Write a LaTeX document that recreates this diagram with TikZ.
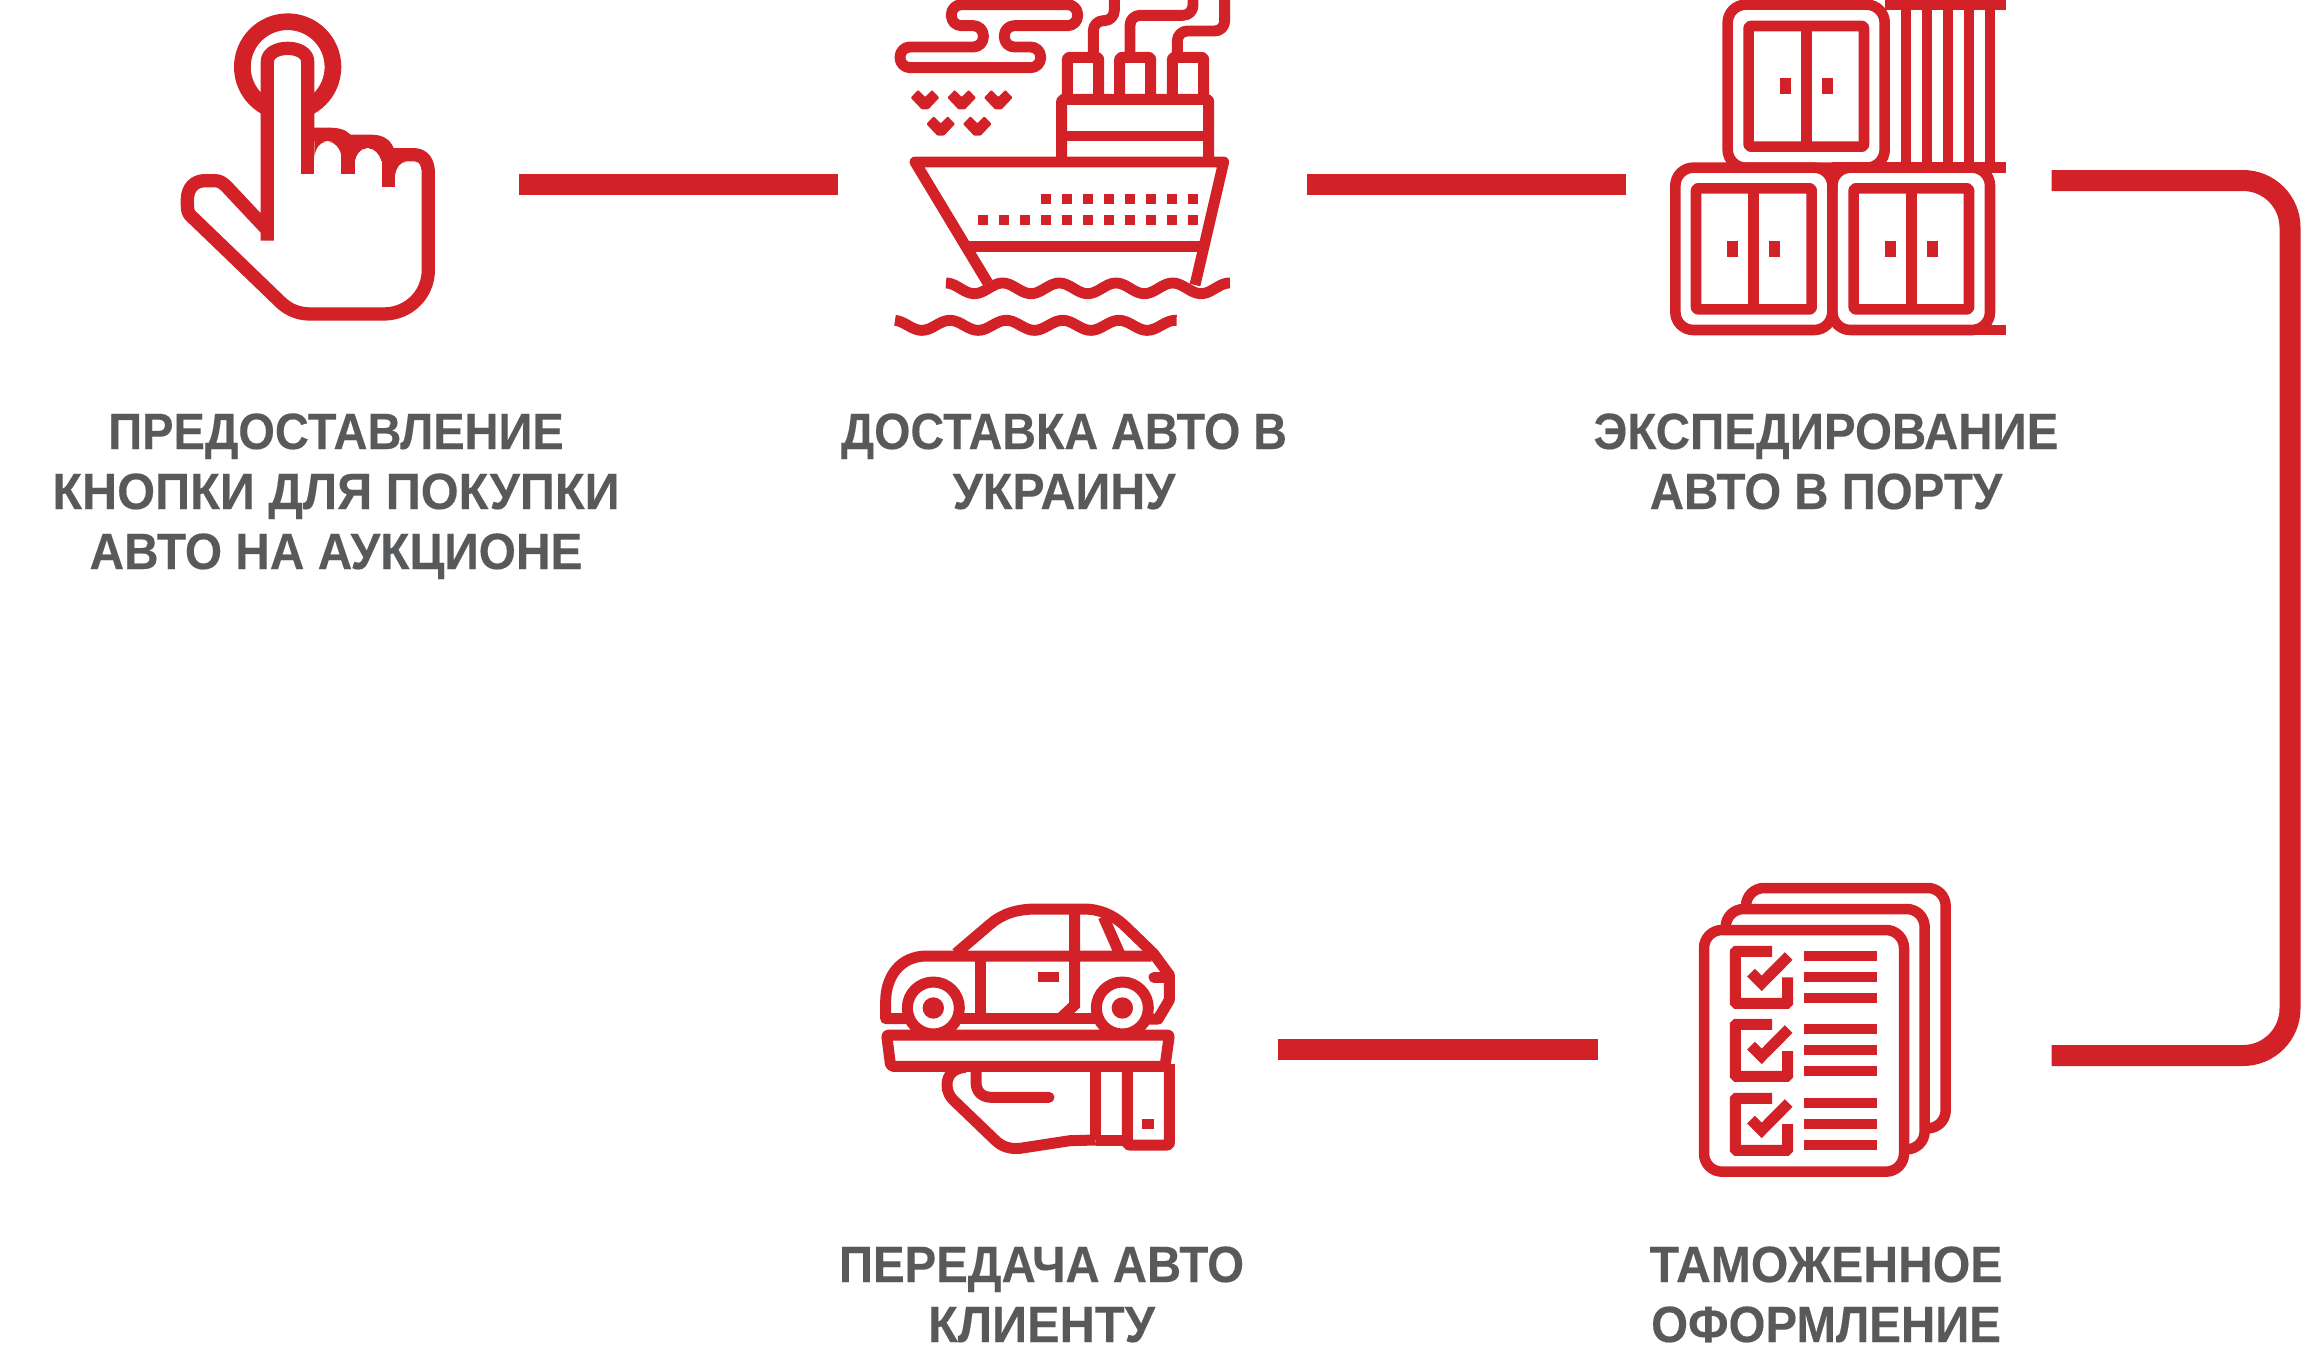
\documentclass[tikz,border=0pt]{standalone}
\usepackage{fontspec}
\setmainfont{Liberation Sans}[BoldFeatures={FakeBold=0.25}]
\definecolor{brandred}{HTML}{D22228}
\definecolor{labelgray}{HTML}{58595B}
\tikzset{
  x=1pt,y=-1pt,
  bar/.style={draw=brandred,line width=21pt},
  lbl/.style={text=labelgray,font=\bfseries\fontsize{51}{60}\selectfont,align=center,anchor=base,inner sep=0pt},
  ic/.style={draw=brandred,line width=#1,line join=round},
  ic/.default=10.9pt,
  zoomscope/.style={x=0.33333pt,y=-0.33333pt}
}
\newcommand{\chevronmark}[2]{\fill[brandred,rounded corners=1pt] (#1-43,#2-1)--(#1-21,#2-24)--(#1,#2-3)--(#1+21,#2-24)--(#1+43,#2-1)--(#1+10,#2+34)--(#1-10,#2+34)--cycle;}
\newcommand{\boxfill}[4]{\fill[brandred] (#1,#2) rectangle (#3,#4);}
\newcommand{\nw}[2]{\scalebox{#1}[1]{#2}}
\newcommand{\checkrow}[2]{%
  \draw[ic=10.9pt,line join=miter,rounded corners=1pt] (246,#1)--(136,#1)--(136,#1+156)--(293,#1+156)--(293,#2);
  \draw[ic=10.9pt,line join=miter] (183,#1+64)--(215,#1+96)--(296,#1+14);
  \foreach \dy in {14,77,140} {\draw[ic=10.4pt] (342,#1+\dy)--(561,#1+\dy);}
}
\begin{document}
\begin{tikzpicture}
\useasboundingbox (0,0) rectangle (2309,1366);
\clip (0,0) rectangle (2309,1366);

% ---------- connectors
\coordinate (a1) at (519,184.7);
\coordinate (a2) at (838,184.7);
\coordinate (b1) at (1307,184.7);
\coordinate (b2) at (1626,184.7);
\coordinate (c1) at (2051.5,180.5);
\coordinate (c2) at (2290,180.5);
\coordinate (c3) at (2290,1055.5);
\coordinate (c4) at (2051.5,1055.5);
\coordinate (d1) at (1597.5,1049);
\coordinate (d2) at (1278.3,1049);
\draw[bar] (a1)--(a2);
\draw[bar] (b1)--(b2);
\draw[bar,rounded corners=47pt] (c1)--(c2)--(c3)--(c4);
\draw[bar] (d1)--(d2);

% ---------- labels
\node[lbl] (t1) at (336,569) {\nw{.922}{ПРЕДОСТАВЛЕНИЕ}\\\nw{.955}{КНОПКИ ДЛЯ ПОКУПКИ}\\\nw{.938}{АВТО НА АУКЦИОНЕ}};
\node[lbl] (t2) at (1064,509) {\nw{.915}{ДОСТАВКА АВТО В}\\\nw{.95}{УКРАИНУ}};
\node[lbl] (t3) at (1826,509) {\nw{.932}{ЭКСПЕДИРОВАНИЕ}\\\nw{.93}{АВТО В ПОРТУ}};
\node[lbl] (t4) at (1041.5,1342) {\nw{.929}{ПЕРЕДАЧА АВТО}\\\nw{.956}{КЛИЕНТУ}};
\node[lbl] (t5) at (1826,1342) {\nw{.944}{ТАМОЖЕННОЕ}\\\nw{.93}{ОФОРМЛЕНИЕ}};

% ---------- pointing hand
\begin{scope}[shift={(150,0)},zoomscope]
  \draw[ic=16.7pt] (413,201) circle[radius=45.3pt];
  \draw[ic=13.3pt,fill=white] (352,722)--(352,185)
    .. controls (352,160) and (380,145) .. (413,145)
    .. controls (446,145) and (473,160) .. (473,185)
    --(473,403)--(540,403) .. controls (570,403) and (590,412) .. (594,430)
    --(594,424)--(665,424) .. controls (695,424) and (712,438) .. (715,464)
    --(790,464) .. controls (820,464) and (835,485) .. (835,520)
    --(835,810) .. controls (835,880) and (780,942) .. (700,942)
    --(480,942) .. controls (440,942) and (410,925) .. (390,905)
    --(120,645) .. controls (112,635) and (112,625) .. (112,600)
    .. controls (112,565) and (132,542) .. (165,542)--(195,542)
    .. controls (210,542) and (220,550) .. (230,560)--(352,690);
  \draw[ic=13.3pt] (473,400)--(473,522);
  \draw[ic=13.3pt] (594,430)--(594,522);
  \draw[ic=13.3pt] (715,460)--(715,562);
  \fill[brandred] (493,470) .. controls (497,445) and (510,425) .. (530,425)--(493,420)--cycle;
  \fill[brandred] (614,485) .. controls (618,465) and (630,445) .. (650,445)--(614,440)--cycle;
  \fill[brandred] (735,525) .. controls (738,505) and (750,485) .. (770,485)--(735,480)--cycle;
  \fill[brandred] (575,470) .. controls (570,445) and (555,425) .. (535,425)--(580,420)--cycle;
  \fill[brandred] (695,485) .. controls (690,465) and (675,445) .. (655,445)--(700,440)--cycle;
\end{scope}

% ---------- ship
\begin{scope}[shift={(880,0)},zoomscope]
  \draw[ic,rounded corners=10pt] (214,14)--(593,14)--(593,77)--(373,77)--(373,141)--(482,141)--(482,203)--(60,203)--(60,141)--(310,141)--(310,77)--(214,77)--cycle;
  \draw[ic,rounded corners=10pt] (640,165)--(640,62)--(703,62)--(703,-20);
  \draw[ic,rounded corners=10pt] (750,165)--(750,46)--(939,46)--(939,-20);
  \draw[ic,rounded corners=10pt] (892,165)--(892,93)--(1034,93)--(1034,-20);
  \draw[ic,rounded corners=2pt] (562,298)--(562,172)--(656,172)--(656,298);
  \draw[ic,rounded corners=2pt] (719,298)--(719,172)--(812,172)--(812,298);
  \draw[ic,rounded corners=2pt] (877,298)--(877,172)--(971,172)--(971,298);
  \draw[ic,rounded corners=2pt] (545,486)--(545,298)--(986,298)--(986,486);
  \draw[ic] (545,408)--(986,408);
  \foreach \cx/\cy in {135/294,245/294,355/294,182/373,292/373} {\chevronmark{\cx}{\cy}}
  \draw[ic] (323,848)--(105,486)--(1031,486)--(945,855);
  \draw[ic] (265,739)--(962,739);
  \foreach \wx in {483,546,609,672,735,798,861,924} {\boxfill{\wx}{582}{\wx+31}{613}}
  \foreach \wx in {294,357,420,483,546,609,672,735,798,861,924} {\boxfill{\wx}{645}{\wx+31}{676}}
  \draw[ic] plot[domain=198:1050,samples=140] (\x,{865-16*cos((\x-368)*2.1176)});
  \draw[ic] plot[domain=45:890,samples=140] (\x,{976-15*cos((\x-210)*2.1302)});
\end{scope}

% ---------- containers
\begin{scope}[shift={(1660,0)},zoomscope]
  \draw[ic=10.6pt] (674,14)--(1037,14);
  \draw[ic=10.6pt] (517,503)--(1037,503);
  \draw[ic=10.6pt] (940,990)--(1037,990);
  \foreach \vx in {738,801,864,927,990} {\draw[ic=10.6pt] (\vx,14)--(\vx,503);}
  \draw[ic=10.6pt,rounded corners=18pt] (203,14) rectangle (674,503);
  \draw[ic=10.6pt,rounded corners=18pt] (46,503) rectangle (517,990);
  \draw[ic=10.6pt,rounded corners=18pt] (517,503) rectangle (990,990);
  \draw[ic=10.6pt,rounded corners=2pt] (266,78) rectangle (612,440);
  \draw[ic=10.6pt] (439,78)--(439,440);
  \draw[ic=10.6pt,rounded corners=2pt] (108,565) rectangle (455,928);
  \draw[ic=10.6pt] (281,565)--(281,928);
  \draw[ic=10.6pt,rounded corners=2pt] (581,565) rectangle (927,928);
  \draw[ic=10.6pt] (754,565)--(754,928);
  \foreach \hx/\hy in {360/235,486/235,202/723,328/723,675/723,801/723} {\boxfill{\hx}{\hy}{\hx+32}{\hy+47}}
\end{scope}

% ---------- car on hand
\begin{scope}[shift={(870,890)},zoomscope]
  \draw[ic=11pt,rounded corners=2pt] (50,435)--(898,435)--(885,529)--(62,529)--cycle;
  \draw[ic=11pt] (120,386)--(47,386)--(47,335) .. controls (47,260) and (90,198) .. (170,198)--(845,198);
  \draw[ic=11pt] (258,190)--(360,103) .. controls (395,72) and (440,57) .. (500,57)--(640,57)
     .. controls (690,57) and (730,75) .. (765,108)--(850,190)--(898,255)--(898,330)--(864,387)--(835,387);
  \draw[ic=11pt] (270,386)--(680,386);
  \draw[ic=11pt] (331,198)--(331,386);
  \draw[ic=11pt,line join=miter] (614,57)--(614,345)--(570,386);
  \draw[ic=11pt] (700,80)--(752,198);
  \draw[ic=11pt,line cap=round] (852,262)--(898,262);
  \boxfill{503}{246}{567}{277}
  \draw[ic=11pt,fill=white] (190,354) circle[radius=26pt];
  \draw[ic=11pt,fill=white] (757,354) circle[radius=26pt];
  \fill[brandred] (190,354) circle[radius=10.7pt];
  \fill[brandred] (757,354) circle[radius=10.7pt];
  \draw[ic=11pt,line join=round] (285,532) .. controls (250,535) and (231,555) .. (231,585)
     .. controls (231,605) and (240,620) .. (250,630)--(375,750)
     .. controls (395,770) and (420,778) .. (450,775)--(600,752)--(677,750);
  \draw[ic=11pt,line cap=round] (318,535)--(318,575) .. controls (318,605) and (335,622) .. (365,622)--(537,622);
  \draw[ic=11pt] (677,530)--(677,750);
  \draw[ic=11pt] (677,751)--(772,751);
  \draw[ic=11pt,rounded corners=2pt] (772,530)--(772,765)--(898,765)--(898,522);
  \boxfill{817}{687}{852}{718}
\end{scope}

% ---------- checklist
\begin{scope}[shift={(1690,870)},zoomscope]
  \draw[ic=10.5pt,rounded corners=18pt] (168,110)--(168,54)--(767,54)--(767,775)--(712,775);
  \draw[ic=10.5pt,rounded corners=18pt] (107,172)--(107,117)--(704,117)--(704,838)--(650,838);
  \draw[ic=10.5pt,rounded corners=18pt] (42,180) rectangle (642,905);
  \checkrow{244}{322}
  \checkrow{463}{543}
  \checkrow{685}{762}
\end{scope}
\end{tikzpicture}
\end{document}
